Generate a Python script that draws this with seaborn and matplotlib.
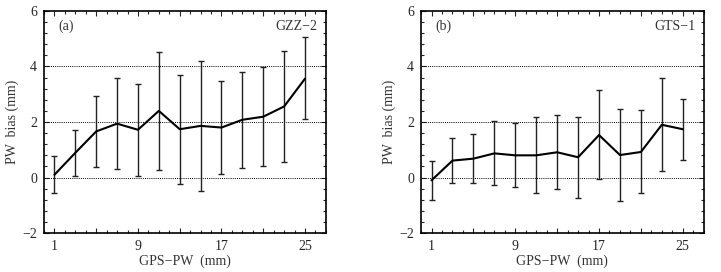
import numpy as np
import pandas as pd
import matplotlib
matplotlib.use("Agg")
import matplotlib.pyplot as plt
import seaborn as sns
from matplotlib.ticker import MultipleLocator, FixedLocator

# Data
gps_pw = [1, 3, 5, 7, 9, 11, 13, 15, 17, 19, 21, 23, 25]
bias_gzz = [0.10, 0.89, 1.66, 1.94, 1.72, 2.40, 1.74, 1.86, 1.80, 2.08, 2.19, 2.56, 3.56]
low_gzz = [-0.55, 0.07, 0.37, 0.31, 0.07, 0.26, -0.25, -0.48, 0.11, 0.35, 0.41, 0.57, 2.10]
high_gzz = [0.77, 1.71, 2.95, 3.57, 3.37, 4.51, 3.69, 4.19, 3.46, 3.80, 3.98, 4.55, 5.05]
bias_gts = [-0.10, 0.61, 0.68, 0.87, 0.80, 0.80, 0.91, 0.73, 1.53, 0.81, 0.92, 1.90, 1.74]
low_gts = [-0.81, -0.19, -0.19, -0.28, -0.35, -0.57, -0.43, -0.74, -0.06, -0.83, -0.57, 0.22, 0.63]
high_gts = [0.59, 1.44, 1.58, 2.04, 1.96, 2.18, 2.24, 2.18, 3.15, 2.46, 2.42, 3.58, 2.83]
panel_labels = ["(a)", "(b)"]
station_names = ["GZZ\u22122", "GTS\u22121"]
xtick_labels = ["1", "", "9", "", "17", "", "25"]

sns.set_style("ticks")
plt.rcParams['font.family'] = ['Liberation Serif', 'DejaVu Serif']
plt.rcParams['axes.unicode_minus'] = True

fig = plt.figure(figsize=(7.21, 2.72), dpi=100)
axes = [fig.add_axes([0.061, 0.143, 0.391, 0.817]),
        fig.add_axes([0.584, 0.143, 0.392, 0.817])]

series = [(bias_gzz, low_gzz, high_gzz), (bias_gts, low_gts, high_gts)]
for ax, (b, lo, hi), pl, st in zip(axes, series, panel_labels, station_names):
    df = pd.DataFrame({"x": gps_pw, "y": b})
    b_arr = np.array(b)
    yerr = np.vstack([b_arr - np.array(lo), np.array(hi) - b_arr])
    for gy in [0, 2, 4]:
        ax.axhline(gy, color="black", lw=0.7, ls=(0, (1, 1.2)), zorder=1)
    ax.errorbar(gps_pw, b, yerr=yerr, fmt="none", ecolor="#222222",
                elinewidth=1.0, capsize=2.5, capthick=1.0, zorder=2)
    sns.lineplot(data=df, x="x", y="y", ax=ax, color="black", lw=1.5, zorder=3)
    ax.set_xlim(0, 27)
    ax.set_ylim(-2, 6)
    ax.xaxis.set_major_locator(FixedLocator([1, 5, 9, 13, 17, 21, 25]))
    ax.set_xticklabels(xtick_labels)
    ax.xaxis.set_minor_locator(MultipleLocator(1))
    ax.yaxis.set_major_locator(MultipleLocator(2))
    ax.yaxis.set_minor_locator(MultipleLocator(0.4))
    ax.tick_params(which="both", direction="in", top=True, right=True, labelsize=10, pad=5)
    ax.tick_params(which="major", length=3.5, width=0.8)
    ax.tick_params(which="minor", length=2, width=0.8)
    for s in ax.spines.values():
        s.set_linewidth(1.2)
        s.set_color("black")
    ax.set_xlabel("GPS\u2212PW  (mm)", fontsize=10, labelpad=1, color="#333333")
    ax.set_ylabel("PW  bias (mm)", fontsize=10, labelpad=2, color="#333333")
    ax.text(0.05, 0.93, pl, transform=ax.transAxes, fontsize=10, va="center", ha="left", color="#333333")
    ax.text(0.97, 0.93, st, transform=ax.transAxes, fontsize=10, va="center", ha="right", color="#333333")

fig.savefig("out.png", dpi=100)
